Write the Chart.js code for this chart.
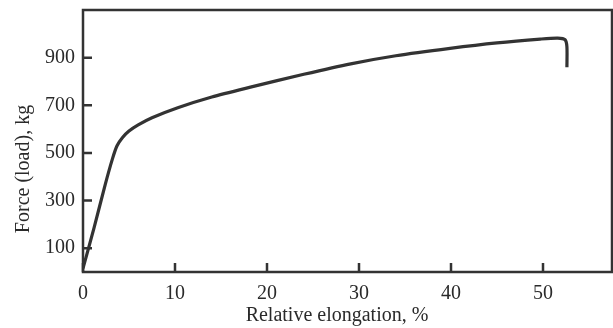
<!DOCTYPE html>
<html>
<head>
<meta charset="utf-8">
<script src="https://cdn.jsdelivr.net/npm/chart.js@4.4.1/dist/chart.umd.min.js"></script>
<style>
  html, body { margin: 0; padding: 0; background: #fff; }
  #wrap { width: 613px; height: 328px; }
</style>
</head>
<body>
<div id="wrap"><canvas id="chart"></canvas></div>
<script>
// data
const elongation = [0, 1.2, 2.4, 3.2, 3.7, 4.3, 5.0, 6.0, 7.5, 10.3, 14.0, 18.2, 24.0, 29.1, 34.0, 39.9, 45.0, 49.7, 51.6, 52.4, 52.6, 52.6];
const force = [15, 185, 365, 475, 530, 565, 592, 618, 648, 690, 735, 776, 830, 874, 908, 939, 962, 978, 982, 975, 945, 860];
const xTickValues = [0, 10, 20, 30, 40, 50];
const yTickValues = [100, 300, 500, 700, 900];
const xTitle = 'Relative elongation, %';
const yTitle = 'Force (load), kg';

const ink = '#333333';
const textInk = '#2a2a2a';
const font = { family: "'Liberation Serif', 'Times New Roman', serif", size: 20 };

// frame, inward tick marks and axis titles
const framePlugin = {
    id: 'frame',
    afterDraw(chart) {
        const { ctx, chartArea: a, scales } = chart;
        ctx.save();
        ctx.strokeStyle = ink;
        ctx.lineWidth = 2.5;
        ctx.strokeRect(a.left, a.top, a.right - a.left, a.bottom - a.top);

        ctx.beginPath();
        xTickValues.forEach(v => {
            const x = scales.x.getPixelForValue(v);
            ctx.moveTo(x, a.bottom);
            ctx.lineTo(x, a.bottom - 9);
        });
        yTickValues.forEach(v => {
            const y = scales.y.getPixelForValue(v);
            ctx.moveTo(a.left, y);
            ctx.lineTo(a.left + 9, y);
        });
        ctx.stroke();

        ctx.fillStyle = textInk;
        ctx.font = `${font.size}px ${font.family}`;
        ctx.textAlign = 'center';
        ctx.textBaseline = 'middle';
        ctx.fillText(xTitle, 337, 316);
        ctx.translate(24, 169);
        ctx.rotate(-Math.PI / 2);
        ctx.fillText(yTitle, 0, 0);
        ctx.restore();
    }
};

new Chart(document.getElementById('chart'), {
    type: 'line',
    data: {
        datasets: [{
            data: elongation.map((x, i) => ({ x: x, y: force[i] })),
            borderColor: ink,
            borderWidth: 3.2,
            pointRadius: 0,
            tension: 0.25,
            fill: false
        }]
    },
    options: {
        responsive: true,
        maintainAspectRatio: false,
        animation: false,
        layout: { padding: { top: 10, right: 1, left: 0, bottom: 0 } },
        plugins: { legend: { display: false }, tooltip: { enabled: false } },
        scales: {
            x: {
                type: 'linear',
                min: 0,
                max: 57.5,
                afterBuildTicks: scale => { scale.ticks = xTickValues.map(v => ({ value: v })); },
                afterFit: scale => {
                    scale.height = 56;
                    scale.paddingLeft = 0;
                    scale.paddingRight = 0;
                },
                grid: { display: false, drawTicks: false },
                border: { display: false },
                ticks: { color: textInk, font: font, padding: 10, maxRotation: 0 }
            },
            y: {
                min: 0,
                max: 1100,
                afterBuildTicks: scale => { scale.ticks = yTickValues.map(v => ({ value: v })); },
                afterFit: scale => {
                    scale.width = 83;
                    scale.paddingTop = 0;
                    scale.paddingBottom = 0;
                },
                grid: { display: false, drawTicks: false },
                border: { display: false },
                ticks: { color: textInk, font: font, padding: 8 }
            }
        }
    },
    plugins: [framePlugin]
});
</script>
</body>
</html>
